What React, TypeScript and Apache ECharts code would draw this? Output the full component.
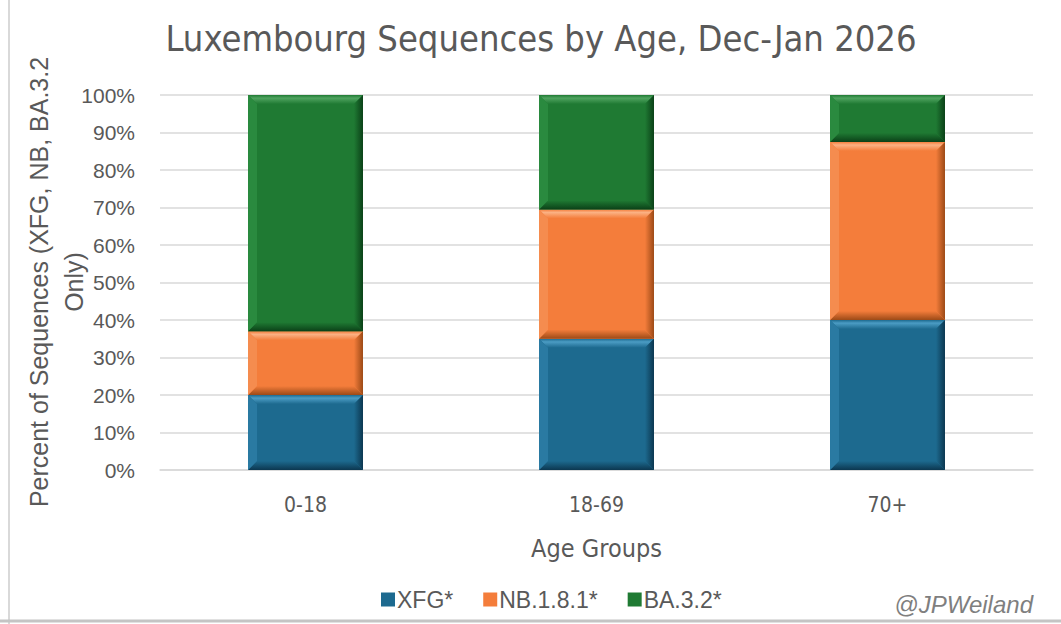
import React, { useEffect, useRef } from "react";
import * as echarts from "echarts";

const categories = ["0-18", "18-69", "70+"];
const seriesNames = ["XFG*", "NB.1.8.1*", "BA.3.2*"];
const xfgValues = [20, 35, 40];
const nbValues = [17, 34.5, 47.5];
const baValues = [63, 30.5, 12.5];
const yTicks = [0, 10, 20, 30, 40, 50, 60, 70, 80, 90, 100];

const palette = [
  { base: "#1d6a8f", light: "#4b9cc4", dark: "#0c3750", side: "#2a7aa2" },
  { base: "#f47d3b", light: "#fbb183", dark: "#9c4a17", side: "#f58c4f" },
  { base: "#1f7a33", light: "#4fa35f", dark: "#0b4118", side: "#2a8a3f" },
];

function buildSeries() {
  const all = [xfgValues, nbValues, baValues];
  const bases = categories.map(() => 0);
  return all.map((vals, si) => {
    const data = vals.map((v, ci) => {
      const b = bases[ci];
      bases[ci] = b + v;
      return [ci, b, b + v];
    });
    const c = palette[si];
    return {
      name: seriesNames[si],
      type: "custom",
      itemStyle: { color: c.base },
      encode: { x: 0, y: [1, 2] },
      data,
      renderItem: (params: any, api: any) => {
        const ci = api.value(0);
        const p0 = api.coord([ci, api.value(1)]);
        const p1 = api.coord([ci, api.value(2)]);
        const bw = api.size([1, 0])[0] * 0.395;
        const x0 = p0[0] - bw / 2;
        const x1 = p0[0] + bw / 2;
        const yb = p0[1];
        const yt = p1[1];
        const h = yb - yt;
        const b = Math.min(9, h / 2, bw / 2);
        return {
          type: "group",
          children: [
            { type: "rect", shape: { x: x0, y: yt, width: bw, height: h }, style: { fill: c.base } },
            {
              type: "polygon",
              shape: { points: [[x0, yt], [x1, yt], [x1 - b, yt + b], [x0 + b, yt + b]] },
              style: {
                fill: new echarts.graphic.LinearGradient(0, 0, 0, 1, [
                  { offset: 0, color: c.base },
                  { offset: 0.35, color: c.light },
                  { offset: 1, color: c.base },
                ]),
              },
            },
            {
              type: "polygon",
              shape: { points: [[x0, yb], [x1, yb], [x1 - b, yb - b], [x0 + b, yb - b]] },
              style: {
                fill: new echarts.graphic.LinearGradient(0, 0, 0, 1, [
                  { offset: 0, color: c.base },
                  { offset: 1, color: c.dark },
                ]),
              },
            },
            {
              type: "polygon",
              shape: { points: [[x0, yt], [x0 + b, yt + b], [x0 + b, yb - b], [x0, yb]] },
              style: { fill: c.side },
            },
            {
              type: "polygon",
              shape: { points: [[x1, yt], [x1 - b, yt + b], [x1 - b, yb - b], [x1, yb]] },
              style: {
                fill: new echarts.graphic.LinearGradient(0, 0, 1, 0, [
                  { offset: 0, color: c.base },
                  { offset: 1, color: c.dark },
                ]),
              },
            },
          ],
        };
      },
    };
  });
}

export default function App() {
  const ref = useRef<HTMLDivElement>(null);
  useEffect(() => {
    if (!ref.current) return;
    const chart = echarts.init(ref.current, null, { renderer: "svg" });
    chart.setOption({
      animation: false,
      backgroundColor: "#ffffff",
      title: {
        text: "Luxembourg Sequences by Age, Dec-Jan 2026",
        left: 536,
        textAlign: "center",
        top: 15,
        textStyle: {
          fontFamily: "'Liberation Sans Narrow', 'DejaVu Sans Condensed', sans-serif",
          fontSize: 36,
          fontWeight: "normal",
          color: "#595959",
        },
      },
      grid: { left: 160, right: 28, top: 95, bottom: 154 },
      legend: {
        data: seriesNames,
        top: 583,
        left: 376,
        icon: "rect",
        itemWidth: 14,
        itemHeight: 14,
        itemGap: 30,
        textStyle: {
          fontFamily: "'Liberation Sans', sans-serif",
          fontSize: 23,
          color: "#595959",
          padding: [0, 0, 0, -3],
        },
      },
      xAxis: {
        type: "category",
        data: categories,
        name: "Age Groups",
        nameLocation: "middle",
        nameGap: 66,
        nameTextStyle: {
          fontFamily: "'Liberation Sans Narrow', 'DejaVu Sans Condensed', sans-serif",
          fontSize: 25,
          color: "#595959",
        },
        axisLine: { lineStyle: { color: "#d9d9d9", width: 1.5 } },
        axisTick: { show: false },
        axisLabel: {
          margin: 24,
          fontFamily: "'Liberation Sans Narrow', 'DejaVu Sans Condensed', sans-serif",
          fontSize: 21,
          color: "#595959",
        },
      },
      yAxis: {
        type: "value",
        min: yTicks[0],
        max: yTicks[yTicks.length - 1],
        interval: 10,
        axisLine: { show: false },
        axisTick: { show: false },
        splitLine: { lineStyle: { color: "#d9d9d9", width: 1.5 } },
        axisLabel: {
          margin: 25,
          formatter: "{value}%",
          fontFamily: "'Liberation Sans', sans-serif",
          fontSize: 21,
          color: "#595959",
        },
      },
      graphic: [
        {
          type: "text",
          x: 56,
          y: 282,
          rotation: Math.PI / 2,
          style: {
            text: "Percent of Sequences (XFG, NB, BA.3.2\nOnly)",
            fontFamily: "'Liberation Sans', sans-serif",
            fontSize: 25,
            lineHeight: 35,
            fill: "#595959",
            align: "center",
            verticalAlign: "middle",
          },
        },
        {
          type: "text",
          x: 1033,
          y: 604,
          style: {
            text: "@JPWeiland",
            fontFamily: "'Liberation Sans', sans-serif",
            fontStyle: "italic",
            fontSize: 24,
            fill: "#7f7f7f",
            align: "right",
            verticalAlign: "middle",
          },
        },
        {
          type: "line",
          shape: { x1: 9, y1: 0, x2: 9, y2: 624 },
          style: { stroke: "#d9d9d9", lineWidth: 2 },
        },
        {
          type: "line",
          shape: { x1: 0, y1: 621, x2: 1061, y2: 621 },
          style: { stroke: "#c4c4c4", lineWidth: 3 },
        },
      ],
      series: buildSeries(),
    });
    return () => chart.dispose();
  }, []);
  return (
    <div
      ref={ref}
      style={{ position: "absolute", left: 0, top: 0, width: 1061, height: 624 }}
    />
  );
}
